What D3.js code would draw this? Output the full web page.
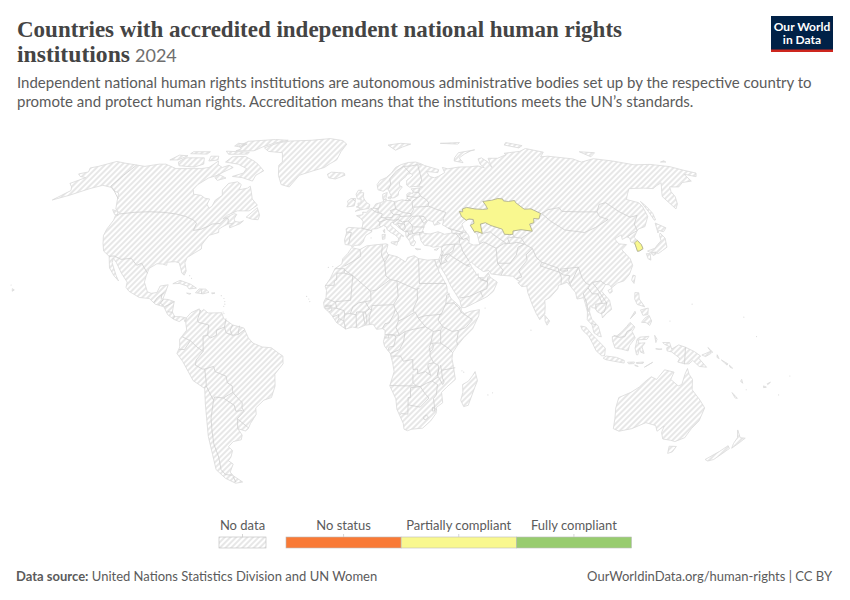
<!DOCTYPE html>
<html>
<head>
<meta charset="utf-8">
<script src="https://cdn.jsdelivr.net/npm/d3@7"></script>
<style>
  html, body { margin: 0; padding: 0; background: #fff; }
  text { font-family: Lato, sans-serif; }
</style>
</head>
<body>
<svg id="chart" width="850" height="600"></svg>
<script>
"use strict";
// all geography below is [lon, lat], traced by hand at low resolution
var northAmerica = [[-168,65.6],[-164,66.5],[-166.5,68.3],[-163,69],[-156.5,71.3],[-150,70.5],[-141,69.6],[-135,69],[-128,70],[-124,70],[-115,68],[-108,68],[-100,68],[-96,68.5],[-94,71.5],[-92,69.8],[-88,68.5],[-85,69.5],[-81.5,68.5],[-85,66.5],[-87,65],[-91,63.8],[-94,61],[-94.5,59],[-92.5,57],[-88,56.5],[-85,55.3],[-82.3,55],[-82,52.8],[-80,51.3],[-79,52],[-79,54.5],[-76.8,56.5],[-78.5,58.7],[-77.5,61.5],[-73,62.2],[-70,61],[-69.5,58.8],[-65.5,59.5],[-64.5,60.3],[-62,57.5],[-60,55],[-56,52.5],[-59,50.2],[-65,50.2],[-69,48.5],[-70.5,47],[-66,49.1],[-64.5,48.8],[-65,47],[-64,46],[-61.5,45.7],[-60,46.3],[-61,45.2],[-65.5,43.5],[-66,44.3],[-64.5,45.3],[-67,45],[-69,44],[-70.5,43],[-70,41.7],[-74,40.6],[-75.5,38],[-76,36.9],[-75.6,35.3],[-78,33.9],[-81,32],[-81.4,30],[-80,26.8],[-80.5,25.2],[-81.8,26],[-82.8,28],[-84,30],[-86,30.4],[-89.5,30.2],[-89.4,29],[-91.5,29.5],[-94,29.6],[-97,27.8],[-97.5,25],[-97.8,22.5],[-95.8,18.8],[-94,18.2],[-91.5,18.5],[-90.5,21],[-87,21.5],[-87.7,18.5],[-88.5,16],[-86,15.8],[-83.3,15],[-83.7,11],[-82.5,9.2],[-80,9.2],[-77.4,8.7],[-77.9,7.2],[-78.5,8.5],[-80.4,7.3],[-83,8.2],[-85.7,10],[-87.6,13],[-91.5,14],[-94.5,16.2],[-99,16.6],[-104,19],[-105.6,20.5],[-105.5,22.5],[-109,26],[-112.5,30],[-114.7,31.7],[-114.5,30],[-111,25],[-109.5,23],[-112,25],[-115,28],[-117,32.5],[-120.5,34.5],[-122.5,37.5],[-124.2,40.5],[-124.5,43],[-124,46.5],[-124.7,48.4],[-123,49],[-127,51],[-130,54.5],[-133,57.5],[-137,58.5],[-140,59.8],[-146,60.7],[-151,59.3],[-158,56.5],[-164,54.6],[-160,58.5],[-162,60],[-165.5,61.5],[-161,64],[-165,64.5]];
var southAmerica = [[-77.4,8.7],[-75.5,10.7],[-72,12.2],[-71.5,10.8],[-70,12],[-68,10.6],[-62,10.7],[-61,8.5],[-57,6],[-52,4.8],[-50,1],[-48,-1],[-44,-2.5],[-40,-2.8],[-37,-4.8],[-35,-6],[-35,-9],[-38.8,-13],[-39,-17.5],[-41,-22],[-44.5,-23],[-48.5,-26],[-48.7,-28.5],[-52,-32],[-53.5,-34],[-55,-34.9],[-58.3,-34],[-57,-36.5],[-58,-38.3],[-62,-39],[-65,-41],[-63.7,-42.5],[-65.5,-45],[-67.5,-46.5],[-65.8,-47.8],[-69,-51],[-68.3,-52.5],[-65,-55],[-69,-55.5],[-73,-53.5],[-75.5,-50],[-74,-44],[-73,-37],[-71.5,-30],[-70.3,-18.5],[-75,-15.5],[-79,-8],[-81.3,-5],[-80,-2.5],[-80,0.5],[-78.7,2],[-77,4],[-77.6,7.2]];
var eurasia = [[-9,37],[-9.5,38.8],[-8.8,41.5],[-9.2,43.1],[-8,43.7],[-3,43.4],[-1.5,43.4],[-1.2,46],[-2.5,47.3],[-4.7,48.3],[-1.5,48.7],[-1.7,49.7],[0.2,49.6],[1.6,50.9],[3.5,51.4],[4.7,53],[7,53.5],[8.8,54],[8.2,55.5],[8.2,57],[10.6,57.7],[10.3,56.5],[9.8,55],[10.9,54.3],[12.5,54.4],[14.2,53.9],[18.5,54.7],[20,54.4],[21,55.3],[21,57],[22.5,57.7],[24.2,57.2],[24.4,58.3],[23.5,59.2],[28,59.5],[30,60],[25,60.2],[22.8,59.9],[21.3,60.8],[21.5,62.8],[25.3,65],[24.2,65.8],[22.2,65.5],[21.3,64.5],[17.5,62.2],[17.2,60.7],[18.8,60],[16.7,58],[16.4,56.5],[14.3,55.5],[12.9,55.4],[12.5,56.5],[11.2,58.9],[10.5,59.3],[8.5,58.2],[5.6,58.8],[5,61],[6.5,62.8],[10,64],[13,66],[15.5,68.5],[19,69.8],[23.5,70.8],[28,71],[31,70.2],[33,69.4],[41,67.5],[40,66.2],[33.5,66.7],[34.8,64.5],[37.5,63.9],[40,64.6],[44,66.2],[43.5,68.5],[46.5,67.9],[53.5,68.7],[60,68.8],[65,69.2],[68.5,68.4],[67,70],[67.5,72.5],[70,73],[72.5,71],[73,68.5],[74,72.8],[80,72.8],[87,74.5],[86.5,75.2],[98,76.2],[104,77.7],[113,75.8],[108,73.5],[113,73.8],[127,72.5],[130,71],[140,72.6],[150,71.5],[160,69.7],[170,69.9],[180,68.9],[-175,67.3],[-170,66],[-173,64.4],[-178,65.5],[-179,62.5],[175,61.9],[170,60],[165,60],[163,58],[162.5,56],[160,53],[157,51],[155.7,56],[158,58],[163,61.8],[155,59.3],[150,59.5],[142,59.3],[135.5,54.8],[140.5,53.5],[141,52],[140,48],[135.5,44],[131.5,43],[130.5,42.3],[127.5,39.8],[129.4,37],[129.2,35.2],[126.5,34.4],[126.5,37.5],[125,38],[125.3,39.5],[124.3,40],[121.5,39],[122,40.8],[118,39.2],[119,37.3],[122.5,37],[119.3,35],[121.8,31.5],[122,29],[119.5,25.5],[116.5,23],[113.5,22.2],[110.5,20.3],[109.7,21.5],[108,21.6],[105.8,19],[108.8,15.5],[109.3,12],[107,10.5],[105,8.7],[104.8,10.2],[103,11],[102,12.5],[100.8,12.7],[100,13.4],[99.5,11],[100.3,8.2],[103,5.5],[104.2,1.4],[103,1.7],[101,3],[100.3,6],[98.3,8],[98.6,11],[98,14],[97.5,16.5],[94.5,16],[94.2,18.5],[92.3,20.8],[91,22.5],[89,21.8],[87,21.3],[86.5,20],[82.5,16.5],[80.2,15.5],[80.2,13],[79.8,10.3],[77.5,8],[76,10.5],[74.5,14],[73,18.5],[72.8,21],[70.5,20.8],[69,22.3],[70,22.8],[68.5,23.5],[67,24.8],[61.5,25.2],[57.3,25.7],[56.5,27],[54,26.6],[51,28.5],[49,30.2],[48,30],[48.8,28.5],[50.2,26.5],[51,25],[51.5,25.8],[51.6,24.3],[54,24.2],[56.2,26.2],[56.7,24.5],[59.8,22.5],[57.8,19],[55,17],[52,15.7],[45,12.7],[43.4,12.7],[42.7,15.5],[39,21],[37,25],[35,28],[34.9,29.5],[34,27.8],[33,28.7],[32.6,30],[32.3,31.2],[34.2,31.3],[35.5,33.5],[36,36],[34,36.2],[32,36],[30.5,36.5],[28,36.7],[26.5,38.5],[26.2,40],[26,40.8],[24,40.8],[23,40.3],[22.7,40.5],[23,39],[24,38],[23,36.5],[21.7,36.8],[21.2,38.3],[19.5,40.3],[19.5,41.8],[16.5,43.4],[15,44.6],[13.7,45.1],[13.7,45.7],[12.3,45.4],[12.4,44.3],[13.5,43.6],[16,41.8],[18.5,40.2],[17,40.4],[16.6,39],[15.7,38],[16,39.5],[14.3,40.8],[12.3,41.7],[10.5,42.9],[10.1,44],[8.8,44.4],[7.5,43.8],[5.5,43.2],[3.2,43],[3.2,41.9],[0.5,40.6],[-0.3,39.2],[-0.5,38.2],[-2,36.8],[-4.5,36.7],[-5.6,36],[-6.5,36.8]];
var africa = [[-5.9,35.8],[-2,35.1],[1,36.5],[5,36.9],[10,37.3],[11,37],[10.2,34.5],[11,33.2],[15.3,32.3],[19,30.3],[20,32],[23,32.7],[25,31.6],[29,31],[32.3,31.2],[32.6,30],[33.5,28],[34,26.5],[35.5,24],[37.2,21],[37.3,18.8],[39,16],[41,14.5],[43.2,12.5],[43.2,11.5],[44.5,10.4],[47,11.2],[51.2,11.9],[50.8,9.5],[48,4.5],[44,1],[41.5,-1.7],[39.3,-4.7],[39,-7],[39.7,-10],[40.7,-15],[37,-18],[34.8,-20],[35.5,-24],[32.8,-25.8],[32.8,-28],[30.5,-31],[27,-33.8],[22,-34.2],[20,-34.8],[18.4,-34.2],[18,-32],[15,-26.5],[14.5,-22.5],[11.8,-17.5],[13.7,-12],[13,-8.5],[12,-5],[9.5,-2.2],[9,-0.5],[9.7,2],[9.7,4],[8.5,4.6],[6,4.3],[4.5,6.3],[1,5.9],[-2,4.8],[-4.5,5.2],[-7.5,4.4],[-11.5,6.9],[-13.5,9.5],[-15,11],[-17,12.5],[-17.4,14.7],[-16.4,16.5],[-16.3,19.3],[-17,21],[-14.8,24],[-13,27.7],[-10,29.5],[-9.7,31.5],[-7.5,33.6]];
var greenland = [[-73,78],[-66,81],[-60,82],[-45,82.5],[-32,83.6],[-22,82.3],[-18,80],[-20,76],[-21,72],[-27,68.5],[-33,67],[-40,65],[-43,60],[-48,61],[-52,65],[-55,69.5],[-54,71],[-58,75.5],[-68,76.2]];
var australia = [[114,-22],[113.5,-26],[115,-34],[118,-35],[123.5,-34],[129,-31.7],[134,-32.8],[135.6,-35],[138,-33],[138,-35.5],[140,-38],[144,-38.5],[146.3,-39],[150,-37.5],[151,-34],[153,-31],[153.5,-26],[150.5,-23],[146,-19],[145.3,-15],[143.5,-13],[142.5,-10.8],[141.7,-13],[141,-17],[139.5,-17.5],[135.7,-15],[136.8,-12.2],[132.5,-11.3],[129.5,-15],[127,-14],[125,-15.5],[122.3,-18],[119,-20]];
var arcticIslands = [
  [[-80,73.7],[-72,71.5],[-68,70],[-62,67],[-65,65],[-65,62.5],[-72,64],[-78,64.5],[-73,66],[-73,68],[-80,70],[-89,71],[-88,73.5]],
  [[-105,73],[-117,73],[-118,71],[-115,69.3],[-105,68.7],[-101,70]],
  [[-125,72],[-123,74.3],[-117,74],[-120,72]],
  [[-90,76.5],[-78,76.5],[-75,78.5],[-62,82.5],[-72,83],[-90,81.8],[-92,79],[-88,77.5]],
  [[-96,76.3],[-80,75.8],[-80,74.8],[-92,74.7]],
  [[-117,76],[-106,76],[-106,74.8],[-117,75]],
  [[-102,73.8],[-97,73.8],[-95,72],[-100,71.5]],
  [[-95,80.5],[-88,80],[-90,78.5],[-95,79]],
  [[-87,65.5],[-81,63.8],[-85,62.8],[-87.5,64]],
  [[11,79.5],[16,76.8],[21,78.5],[27,80],[20,80.5]],
  [[52,71.5],[57,70.7],[56,73],[66,76.5],[69,77],[57,75.5],[53,73]],
  [[48,80.5],[62,81],[60,80]],
  [[95,81],[104,79.2],[100,78],[92,79.5]],
  [[137,76],[146,75.5],[140,73.5]],
  [[178.7,71],[-178,71],[-178,71.6]]
];
var otherIslands = [
  [[-59.3,47.7],[-55.5,51.5],[-53,48.5],[-53,46.7],[-56,46.9]],
  [[-128.3,50.7],[-125,50],[-123.4,48.4],[-125.5,48.8]],
  [[-85,21.9],[-82,23.2],[-77,21.7],[-74.2,20.2],[-77.5,19.9],[-78.5,21],[-82,22]],
  [[-74.4,18.4],[-73,19.9],[-70,19.8],[-68.4,18.6],[-71,18]],
  [[-78.3,18.3],[-76.3,18.1],[-77,17.8]],
  [[-67.2,18.4],[-65.7,18.3],[-67,18]],
  [[-156,20],[-155,19.5],[-155.8,19]],
  [[-5.5,50],[-3,50.6],[1.3,51.2],[1.7,52.7],[0,53.5],[-1.5,55],[-2,56],[-2,57.6],[-4,57.6],[-3,58.6],[-5,58.6],[-6,57],[-5,55],[-3,54.9],[-3,53.4],[-4.5,53.3],[-4.2,52],[-5.2,51.8],[-3,51.4]],
  [[-10,51.8],[-6.3,52.2],[-6,53.8],[-6,55.2],[-8.3,55.2],[-10,54.2],[-9.5,53]],
  [[-24,65.5],[-22,66.4],[-18,66.2],[-14.5,66],[-13.7,65],[-18.8,63.4],[-22.7,63.9]],
  [[11,55.7],[12.6,56],[12.3,55],[11.2,55.2]],
  [[12.5,38],[15.6,38.2],[15.1,36.7],[12.5,37.6]],
  [[8.2,40.9],[9.7,41],[9.5,39.2],[8.4,39]],
  [[8.6,42.4],[9.4,43],[9.4,41.5]],
  [[23.6,35.5],[26.2,35.2],[24.5,35]],
  [[32.4,35],[34.5,35.6],[33.6,34.8]],
  [[142,54],[143,52],[143.5,49.3],[142.8,46.7],[142,46.5],[142,50]],
  [[140,41.5],[141.5,45.4],[145.3,43.5],[143,42],[141,42.5]],
  [[141,41.5],[142,39.5],[140.8,36],[138,34.7],[135.7,33.6],[132,34],[131,34.5],[135,35.6],[137,37],[139.5,38.5],[140,40.5]],
  [[130,33.5],[131.8,33.5],[131,31],[130,31.5]],
  [[132.3,33.5],[134.5,34.2],[134.2,33.3],[133,32.8]],
  [[121,25.2],[122,25],[120.8,22],[120,23.3]],
  [[108.7,19.3],[110.5,20.1],[110.5,18.8],[109.3,18.2]],
  [[120.5,18.5],[122.2,18.4],[122,16],[124,13],[120.8,13.9],[120,16]],
  [[122,7],[123.5,8.6],[125.5,9.7],[126.5,7.5],[125.5,5.8],[124,6.9]],
  [[122,11.8],[125.5,12.5],[125,10],[122.8,9.7]],
  [[117.2,8.4],[119.5,11.3],[119.7,10.5]],
  [[79.8,9.7],[81.8,7.5],[80.6,5.9],[79.8,7.5]],
  [[95.3,5.6],[97.5,5.2],[100.5,2],[103.8,-1],[106,-3],[105.8,-5.9],[104.5,-5.9],[102,-4],[100.3,-1],[98.7,1.7],[96,4]],
  [[105.2,-6.8],[106.5,-6],[111,-6.5],[114.5,-7.7],[114.5,-8.7],[110,-8],[106.4,-7.4]],
  [[109,1.5],[111,1.8],[113,3.2],[115.5,5.5],[117,7],[119,5.2],[117.7,3.5],[119,1],[116.5,-2],[116,-4],[113,-3.3],[110.2,-2.9],[109,0]],
  [[119.7,-5.5],[119,-3],[119.8,0.5],[121,1.3],[125,1.6],[124,0.4],[120.5,0.3],[120.2,-1],[121.7,-1],[123.3,-0.9],[122,-2.5],[123,-5],[121.5,-4.5],[120.9,-3],[120.3,-5.5]],
  [[127.5,2],[128.5,0.5],[128,-0.8]],
  [[128,-3.2],[130.8,-3.3],[129.5,-3.5]],
  [[123.5,-10.3],[127,-8.4],[125,-9.5]],
  [[119.8,-8.5],[123,-8.3],[122.8,-8.8],[120,-8.9]],
  [[116,-8.4],[119,-8.3],[118.8,-8.9],[116.5,-9]],
  [[119.2,-9.4],[120.8,-10],[119.5,-9.8]],
  [[131,-0.8],[134,-0.8],[135,-3.3],[138,-1.7],[141,-2.6],[145,-4.3],[147.8,-6],[147,-6.8],[150.8,-10.3],[147.5,-10],[144.5,-7.7],[143,-9],[141,-9],[138,-8.3],[138.7,-6.8],[135,-4.4],[133,-4],[132.8,-2.8],[134,-2.3],[131.8,-1.5]],
  [[148.3,-5.6],[152,-4.2],[152.2,-5],[150,-6.2]],
  [[150.8,-2.7],[153,-4.5],[152.6,-4.7]],
  [[155,-5.5],[156,-7],[155,-6.5]],
  [[157,-7.5],[160,-9],[159.7,-9.5]],
  [[160.7,-9.5],[162.3,-10.7],[161.2,-10.4]],
  [[167,-15],[167.8,-16.5],[166.7,-15.7]],
  [[164,-20.1],[167,-22.3],[166,-22.2]],
  [[177.3,-17.5],[178.7,-18],[177.5,-18.2]],
  [[178.7,-16.7],[180,-16.1],[179,-17]],
  [[144.8,-40.8],[148.3,-40.9],[148,-43],[146.2,-43.6]],
  [[172.7,-34.5],[176,-37.5],[178.5,-37.7],[177,-39.5],[175.3,-41.6],[174.5,-39.7],[174.7,-37.5]],
  [[172.7,-40.6],[174.3,-41.7],[172.8,-43.5],[170.7,-46],[168.4,-46.6],[166.5,-46],[170.5,-42.9]],
  [[49.3,-12],[50.5,-15.5],[49.5,-18],[47,-25],[45,-25.5],[43.5,-23],[44.3,-20],[44,-17],[46.5,-15.7],[48.3,-13.5]]
];
var inlandSeas = [
  [[28,41.4],[31,41.1],[35,42],[38,41],[41.5,41.5],[41.5,42.7],[37.5,44.7],[38.5,46.8],[35,46],[36.5,45.2],[33.5,44.5],[33,46],[30.7,46.5],[28.7,44.5],[27.7,42.5]],
  [[47,45],[50,46.8],[53,46.8],[51,44.5],[52.8,41.7],[53.5,40.8],[53.9,37],[51,36.8],[49,37.5],[49.5,40.3],[47.5,43]]
];
var tinyIslands = [[-61,15],[-61.3,13.2],[-61.5,16.2],[-60.9,14],[-61.4,11],[-62.8,17.3],[-61,10.4],[-24,16],[-23.5,15],[-25,17],[57.5,-20.2],[55.5,-21],[43.5,-11.7],[44.3,-12.2],[53.7,12.5],[-172,-13.7],[-175,-21],[172,1.5],[167,9],[170,-19],[134.5,7.5],[145,14],[-157,21.4],[-78,25],[-77,24],[-16,28.2],[-14,28.5],[3,39.6],[73.5,4]];

var americasBorders = [
  [[-141,69.6],[-141,60.3],[-137.5,58.9],[-133.5,56.8],[-130,55]],
  [[-123,49],[-95,49],[-89.5,48],[-84.5,46.5],[-82.5,45.3],[-82.5,42.5],[-79,43],[-76,44.2],[-74.7,45],[-71,45.2],[-69.2,47.4],[-67.8,47],[-67,45]],
  [[-117,32.5],[-114.7,32.6],[-111,31.3],[-106.5,31.7],[-103,29],[-101,29.8],[-97.2,25.9]],
  [[-92.2,14.6],[-91,16.5],[-89.2,17.8],[-88.2,18.5]],[[-89.2,15.9],[-89.2,17.9]],
  [[-88.3,15.7],[-89.3,14.4],[-90,13.7]],[[-89.3,14.4],[-87.8,13.4]],
  [[-87.5,13],[-85,14],[-83.2,15]],[[-85.7,11.1],[-83.7,10.9]],[[-83,8.3],[-82.6,9.5]],
  [[-71.7,19.7],[-71.7,18]],
  [[-71.3,11.8],[-72.5,8],[-72,7],[-67.5,6],[-67.8,2]],[[-67.8,2],[-69.8,1.7],[-69.8,-4.2]],
  [[-69.8,-4.2],[-72.5,-2.5],[-75.3,-0.1],[-78.8,1.4]],[[-75.3,-0.1],[-78,-3.5],[-80.3,-3.4]],
  [[-69.8,-4.2],[-73,-7.5],[-73.5,-9.5],[-70.5,-11],[-69.5,-11]],[[-69.5,-11],[-69.3,-15.5],[-69.5,-17.5]],[[-69.5,-17.5],[-70.4,-18.3]],
  [[-69.5,-11],[-65.5,-10],[-65,-12],[-60.3,-13.8],[-60,-16.3],[-58,-17.5],[-58,-20]],[[-58,-20],[-62.5,-22.2]],
  [[-62.5,-22.2],[-66.3,-21.8],[-67,-23]],[[-69.5,-17.5],[-68,-21],[-67,-23]],
  [[-67,-23],[-69.5,-30],[-70.5,-35],[-71.5,-40],[-71.5,-45],[-73,-50],[-72,-52],[-68.5,-52.3]],[[-68.6,-52.7],[-68.6,-55]],
  [[-62.5,-22.2],[-58,-25],[-57.7,-27.3],[-54.7,-27]],[[-58,-20],[-56,-22.3],[-54.3,-24],[-54.7,-26]],
  [[-54.7,-26],[-54,-27.3],[-57.6,-30.2]],[[-57.6,-30.2],[-58.3,-34]],[[-57.6,-30.2],[-53.3,-33.7]],
  [[-60,8.5],[-60.5,5.2]],[[-60.5,5.2],[-64,4],[-64,2],[-66.5,1],[-67.8,2]],[[-60.5,5.2],[-59.8,3],[-57,2]],
  [[-57,6],[-58,4],[-57,2]],[[-54,5.7],[-54.5,2.3]],[[-57,2],[-54.5,2.3]],[[-54.5,2.3],[-51.8,4.1]]
];
var africaBorders = [
  [[-2,35.1],[-1.5,32.5],[-5,30.5],[-8.7,28.7]],[[-13,27.7],[-8.7,27.7],[-8.7,26],[-12,26],[-12,23.4],[-13,23],[-13,21.3],[-17,21.3]],
  [[-8.7,27.3],[-4.8,25],[3.3,19],[4.2,19.2],[5.8,19.5],[12,23.5]],[[-8.7,26],[-4.8,25],[-5.5,15.5],[-12,15],[-12.2,14.8],[-16.4,16.2]],
  [[8.4,36.9],[8,33],[9.5,30.2]],[[11.5,33.2],[9.5,30.2]],[[9.5,30.2],[10,25],[12,23.5]],[[12,23.5],[15,23]],[[15,23],[24,19.5]],[[25,31.6],[25,22]],[[24,19.5],[24,20],[25,20]],[[24.9,22],[37,22]],
  [[24,19.5],[24,15.7],[22.5,13],[22,11]],[[22.8,11],[18.8,8.8],[15.5,7.5]],[[15,23],[15.5,16.9],[13.5,14]],[[13.5,14],[14.2,12],[15.5,10],[15.5,7.5]],
  [[3.3,19],[3.5,15.4],[1,15]],[[1,15],[2.8,12.2]],[[3.7,11.7],[4,13.5],[13.5,13.8]],[[2.8,12.2],[3.7,11.7],[2.7,9],[2.8,6.3]],[[1,11],[1.7,9],[1.7,6.2]],[[1,11],[2.8,12.2]],
  [[-5.5,10.4],[-3,9.9],[-2.8,11],[1,11]],[[-5.5,10.4],[-4.5,13],[-2,14.5],[1,15]],[[-12.2,14.8],[-11.5,12.4],[-8.3,11.5],[-8,10.2],[-5.5,10.4]],
  [[-11.5,12.4],[-13.7,12.6],[-16.7,12.4]],[[-13.7,12.6],[-13.7,11.7],[-15,11]],[[-16.8,13.2],[-14,13.2],[-14,13.6],[-16.6,13.6]],
  [[-13.2,9.1],[-10.7,10],[-10.6,8.5]],[[-11.4,6.9],[-10.6,8.3]],[[-10.6,8.5],[-8.4,7.6],[-8,10.2]],[[-8.4,7.6],[-7.5,4.4]],[[-3,9.9],[-2.8,5.1]],[[0,11],[0.5,8],[1.1,6]],
  [[8.6,4.7],[9.7,6.5],[11.5,6.8],[13.5,10],[14.2,12]],[[9.8,2.3],[16,2]],[[15.5,7.5],[14.5,5],[16,2]],[[9.6,1],[11.3,1],[11.3,2.2]],
  [[11.3,2.2],[13.3,2.2],[14.5,1.4],[13.5,-2.3],[11.5,-2.5],[11,-3.8]],[[12,-5],[16,-3.5],[17.8,-0.5],[18.5,3.5]],[[16,2],[18.5,3.5]],[[18.5,3.5],[22,4.3],[27.4,5.3]],
  [[27.4,5.3],[24.2,8.7],[23.5,10],[22.8,11]],[[24.2,8.7],[27,9.5],[33,10],[34.3,10]],[[34,10.5],[33,7.8],[35,5.3]],[[27.4,5.3],[30.8,3.5],[34,4],[35,5.3]],
  [[34.3,10],[36.5,14.3],[37,17.5],[38.5,18]],[[36.5,14.3],[40,14.5],[42.4,12.5]],[[42.4,12.5],[43,11],[48,8],[45,5],[42,4]],
  [[35,5.3],[39,3.5],[41.8,3.9]],[[41.8,3.9],[41,-0.5],[41.5,-1.7]],[[34,4],[34,0],[34,-1]],[[34,-1],[37.7,-3.2],[39.2,-4.7]],[[30.8,3.5],[29.8,-0.5],[29.6,-1.4]],[[30.5,-1],[34,-1]],
  [[29.6,-1.4],[30.5,-1],[30.8,-2.4],[30.5,-3.5],[29.4,-4.4],[29,-2.7],[29.6,-1.4]],[[29.4,-4.4],[29.4,-6],[31,-8.6]],
  [[12.3,-6],[16.5,-6],[17.7,-8],[21.8,-7.3],[22,-11.2],[24,-11]],[[24,-11],[24,-12.9],[27.5,-12],[29.8,-13.5],[28.5,-10],[28.6,-9],[31,-8.6]],
  [[31,-8.6],[33,-9.5],[33.3,-11],[32.7,-13.6]],[[34.5,-11.5],[40.5,-10.5]],[[34,-9.5],[34.5,-11.5],[35,-14.5],[35.8,-16],[35.2,-17],[33.2,-14],[32.7,-13.6],[33.3,-11]],
  [[30.4,-15.6],[33.2,-14]],[[30.4,-15.6],[32.9,-17],[32.5,-21],[31.3,-22.4]],[[25.3,-17.8],[28,-16.5],[30.4,-15.6]],[[25.3,-17.8],[27.5,-20.5],[29.3,-22.2]],
  [[22,-13],[22,-16.2],[23.5,-17.5]],[[11.8,-17.3],[14,-17.4],[18.5,-17.5],[23.5,-17.5],[25.3,-17.8],[21,-18.2],[21,-22],[20,-22],[20,-28.4],[17,-28.2],[16.5,-28.6]],
  [[20,-24.8],[23,-25.3],[25.5,-25.7],[29.3,-22.2]],[[31.3,-22.4],[32,-26],[32.9,-26.9]],
  [[27,-29.6],[28.3,-28.7],[29.4,-29.5],[28.2,-30.6],[27.3,-30.3],[27,-29.6]],[[31,-25.8],[32,-26],[32,-27.2],[31,-27.2],[31,-25.8]]
];
var europeBorders = [
  [[-8.8,41.9],[-6.5,41.7],[-7,39.6],[-7.4,37.2]],[[-1.8,43.4],[3.2,42.4]],[[2.5,51],[4.2,50],[5.8,49.5],[6.2,49.5],[8.2,49],[7.5,47.6],[6,46.3],[7,45.8],[6.9,44.3],[7.5,43.8]],
  [[3.4,51.4],[6,51]],[[5.8,49.5],[6,50.1]],[[7,53.3],[6.8,52],[6,51],[6,50.2],[6.2,49.5]],[[8.6,54.9],[9.8,54.8]],[[14.2,53.9],[14.7,52],[15,50.9]],
  [[12.1,50.3],[15,51],[16.5,50.3],[18.8,49.5]],[[12.1,50.3],[13.8,48.7],[16.9,48.7]],[[7.5,47.6],[10,47.4],[13,47.6],[13.8,48.7]],[[7,45.8],[10.4,46.8],[9.6,47.4]],[[10.4,46.8],[13.7,46.5]],
  [[16.9,48],[16,46.8],[13.7,46.5]],[[16.9,48.7],[17,48],[22.5,48.2],[22.5,49.1],[18.8,49.5]],[[16,46.8],[18,45.8],[21,46.2],[22.9,47.9]],[[13.6,45.5],[16,46.8]],
  [[22.5,49.1],[24,50.8],[23.5,51.5]],[[23.5,51.5],[23.5,54]],[[19.8,54.4],[22.8,54.4],[21,55.3]],[[23.5,54],[26.6,55.6]],[[21,56.1],[26.6,55.6]],[[24.4,57.9],[27.5,57.6]],[[28,59.5],[27.5,57.6]],
  [[27.5,57.6],[28.2,56.2],[26.6,55.6]],[[28.2,56.2],[31,54.7],[32,53.5],[31.5,52.2]],[[24,51.7],[31.5,52]],[[31.5,52.2],[35,51],[40,49.6],[38.2,47.1]],
  [[22.9,48],[26.6,48.2],[29,47.9],[30,46.4],[28.7,45.3]],[[26.6,48.2],[28.2,45.5],[28.7,45.3]],[[21,46.2],[22.7,44.5],[22.9,43.9],[28.6,43.8]],[[22.9,43.9],[22.4,42.3],[22.9,41.3]],[[22.9,41.3],[26.3,41.7],[28,42]],
  [[26.3,41.7],[26,40.8]],[[20,39.7],[21,40.8],[22.9,41.3]],[[19.4,42.2],[20.5,42],[21,40.8]],[[15.8,45.2],[19,45],[19.4,43.5],[18.5,42.5],[17.5,43],[15.8,44.8],[15.8,45.2]],[[19.4,42.2],[22.4,42.3]],[[18.9,46],[19,45.2]],
  [[24.1,65.8],[20.5,69]],[[20.5,69],[25,69.2],[29,69.8]],[[20.5,69],[16,67],[12,63.5],[12.5,61],[11.2,59]],[[28,60.5],[30,63],[29.5,66],[29,69.5]],[[29,69.5],[31,70]],[[-7.3,55],[-6,54]]
];
var asiaBorders = [
  [[40,43.4],[46.5,41.8]],[[41.5,41.5],[43.5,41.2],[46.5,41.2],[46.5,41.8]],[[46.5,41.8],[48.5,41.8]],[[45,41.2],[45.5,40],[46.5,39]],[[43.5,41.2],[44.7,39.7]],[[44.7,39.7],[46.5,39],[48,39.5],[48.9,38.4]],[[44.7,39.7],[44.5,37.7]],
  [[36,36],[37,36.8],[42.3,37.2],[44.8,37.2]],[[44.8,37.2],[45.5,34.5],[48,30.5]],[[42.3,37.2],[41,34.5],[38.8,33.4]],[[36,34.6],[36.5,33.8],[35.8,32.7],[38.8,33.4]],[[38.8,33.4],[37,31.5],[38,30.5],[35,29.4]],
  [[35.1,33.1],[35.6,33],[35.5,31],[34.9,29.5]],[[34.3,31.2],[34.9,29.5]],[[38.8,33.4],[41,32],[46.5,29],[48,29.5]],[[46.5,29.1],[48,28.5]],[[42.8,16.4],[47,17],[52,19],[53,16.7]],[[52,19],[55,20],[55.5,22.7],[52,23.5]],[[51.6,24.3],[55.2,22.7],[56,24.8]],
  [[53.9,37.3],[56,38],[61.2,35.6]],[[61.2,35.6],[60.8,29.8]],[[60.8,29.8],[63,27],[61.7,25.1]],[[60.8,29.8],[66.5,29.8],[70,33],[71.5,36],[74.8,37.2]],[[61.2,35.6],[65,37.3],[66.5,37.4]],[[66.5,37.4],[70,37.6],[71.5,37.9],[74.8,37.2]],
  [[56,41.3],[60,42],[61,41],[66.5,37.4]],[[70.5,41],[71,40],[67.5,39.5],[68,37.4]],[[70,40],[74,39.5]],[[80.2,42.2],[74,39.5]],[[74,39.5],[75,37.4]],[[74.8,37.2],[78,35.5]],[[78,35.5],[74.5,33],[74.5,31],[70,27],[71,24.5],[68.5,23.8]],[[78,35.5],[79,32],[81,30.2]],
  [[81,30.2],[88,27.9],[88,26.4],[80,28.8],[81,30.2]],[[88.8,27.5],[92,27.8],[92,26.8],[89,26.8],[88.8,27.5]],[[92,27.8],[97.2,28.3]],[[97.2,28.3],[94,24],[92.5,22]],[[88.2,26.4],[89.8,25.3],[92.5,25],[91.8,23],[92.5,21]],[[88.2,21.7],[88.7,24.3],[88.2,26.4]],
  [[97.2,28.3],[98,24],[99.5,22],[101,21.5]],[[101,21.5],[100,20.3],[97.5,18],[98.5,15],[99,11]],[[101,21.5],[102.2,22.4]],[[102.2,22.4],[104,20],[107,15],[107.5,14.5]],[[100,20.3],[101.5,18],[104,18],[105.5,14.3]],[[102.5,12],[102.5,14],[105.5,14.3],[107.5,14.5],[106,11],[104.5,10.4]],[[102.2,22.4],[106,23],[108,21.6]],[[100.1,6.5],[102,6.1]],
  [[87.8,49.2],[91,46],[96,42.7],[105,41.7],[111.5,43.7],[119.5,46.8],[116,47.9],[116,49.8]],[[87.8,49.2],[92,50.7],[98,51.5],[98.5,50],[107,49.8],[116,49.8]],[[87.3,49.2],[87.8,49.2]],[[116,49.8],[119.5,52.8],[123.5,53.5],[127,50],[131,47.7],[135,48.4],[131,45],[130.7,42.4]],[[130.6,42.4],[128,41.5],[124.4,40]],
  [[109.6,2],[112,1.2],[114.5,1.5],[115.5,3.5],[117.6,4.2]],[[141,-2.6],[141,-9.1]]
];
// only two countries carry a value on this map
var kazakhstan = [[49.5,46.5],[47.5,48],[46.9,50],[48.5,49.8],[48.8,51],[51,51.6],[55,51],[59,50.8],[61.5,51],[61,52.7],[60.2,54],[65,54.5],[68.5,55.2],[71,55],[71,54.2],[73.5,54],[76.8,54.4],[77,53.5],[80,50.9],[83.5,51],[87.3,49.2],[85.5,47],[83,47.2],[82.3,45.5],[80,45],[80.2,42.2],[75,42.8],[71,42.3],[70.5,41],[68.8,40.9],[66.5,41],[66,43],[61,44.4],[58.6,45.5],[56,45],[56,41.3],[54,42],[52.7,42],[52.5,41.7],[51,44.5],[53,45.3],[53,46.8],[51,47]];
var southKorea = [[126.6,37.7],[128.4,38.6],[129.4,37],[129.4,35.5],[127.5,34.6],[126.3,34.4],[126.5,36.5]];

var legendCategories = ["No status", "Partially compliant", "Fully compliant"];
var legendColors = ["#f97a36", "#f9f88f", "#98cc6f"];
var noDataLabel = "No data";
var titleLines = ["Countries with accredited independent national human rights", "institutions"];
var titleYear = "2024";
var subtitleLines = ["Independent national human rights institutions are autonomous administrative bodies set up by the respective country to",
  "promote and protect human rights. Accreditation means that the institutions meets the UN\u2019s standards."];

// robinson table, every 5 degrees of latitude
var robinsonX = [1,.9986,.9954,.99,.9822,.973,.96,.9427,.9216,.8962,.8679,.835,.7986,.7597,.7186,.6732,.6213,.5722,.5322];
var robinsonY = [0,.062,.124,.186,.248,.31,.372,.434,.4958,.5571,.6176,.6769,.7346,.7903,.8435,.8936,.9394,.9761,1];
var latIndex = d3.range(0, 95, 5);
var xAtLat = d3.scaleLinear().domain(latIndex).range(robinsonX).clamp(true);
var yAtLat = d3.scaleLinear().domain(latIndex).range(robinsonY).clamp(true);

function robinsonRaw(lambda, phi) {
  var deg = Math.abs(phi) * 180 / Math.PI;
  return [0.8487 * xAtLat(deg) * lambda, 1.3523 * yAtLat(deg) * (phi < 0 ? -1 : 1)];
}

var projection = d3.geoProjection(robinsonRaw).rotate([-11, 0]).scale(154.6).translate([388, 340.5]).precision(0.3);
var path = d3.geoPath(projection);

// d3 wants exterior rings clockwise, my tracing goes either way
function toPolygon(ring) {
  var closed = ring.concat([ring[0]]);
  var poly = { type: "Polygon", coordinates: [closed] };
  if (d3.geoArea(poly) > 2 * Math.PI) poly.coordinates = [closed.slice().reverse()];
  return poly;
}

var svg = d3.select("#chart");

var defs = svg.append("defs");
defs.append("pattern")
  .attr("id", "noDataPattern")
  .attr("patternUnits", "userSpaceOnUse")
  .attr("width", 4)
  .attr("height", 4)
  .attr("patternTransform", "rotate(-45 2 2)")
  .append("path")
  .attr("d", "M -1,2 l 6,0")
  .attr("stroke", "#d4d4d4")
  .attr("stroke-width", 1.1);

var landRings = [northAmerica, southAmerica, eurasia, africa, greenland, australia].concat(arcticIslands, otherIslands);
var map = svg.append("g").attr("id", "map");

map.selectAll(".land")
  .data(landRings.map(toPolygon))
  .join("path")
  .attr("class", "land")
  .attr("d", path)
  .attr("fill", "url(#noDataPattern)")
  .attr("stroke", "#d9d9d9")
  .attr("stroke-width", 0.8)
  .attr("stroke-linejoin", "round");

map.selectAll(".sea")
  .data(inlandSeas.map(toPolygon))
  .join("path")
  .attr("class", "sea")
  .attr("d", path)
  .attr("fill", "#fff")
  .attr("stroke", "#d9d9d9")
  .attr("stroke-width", 0.8);

map.append("path")
  .datum({ type: "MultiLineString", coordinates: americasBorders.concat(africaBorders, europeBorders, asiaBorders) })
  .attr("d", path)
  .attr("fill", "none")
  .attr("stroke", "#cfcfcf")
  .attr("stroke-width", 0.8)
  .attr("stroke-linejoin", "round");

map.selectAll(".dot")
  .data(tinyIslands)
  .join("circle")
  .attr("class", "dot")
  .attr("cx", function (d) { return projection(d)[0]; })
  .attr("cy", function (d) { return projection(d)[1]; })
  .attr("r", 0.6)
  .attr("fill", "#dcdcdc");

map.selectAll(".compliant")
  .data([kazakhstan, southKorea].map(toPolygon))
  .join("path")
  .attr("class", "compliant")
  .attr("d", path)
  .attr("fill", legendColors[1])
  .attr("stroke", "#a8a88a")
  .attr("stroke-width", 0.8)
  .attr("stroke-linejoin", "round");

// header
var title = svg.append("g")
  .attr("font-weight", 600);
title.selectAll("text")
  .data(titleLines)
  .join("text")
  .attr("x", 17)
  .attr("y", function (d, i) { return 37 + i * 25; })
  .attr("textLength", function (d, i) { return i === 0 ? 605 : 113; })
  .attr("lengthAdjust", "spacingAndGlyphs")
  .attr("fill", "#444")
  .style("font-family", "'Liberation Serif', serif")
  .style("font-size", "23.5px")
  .style("font-weight", 700)
  .text(function (d) { return d; });

svg.append("text")
  .attr("x", 135)
  .attr("y", 62)
  .attr("fill", "#6e6e6e")
  .attr("font-size", 18)
  .text(titleYear);

svg.selectAll(".subtitle")
  .data(subtitleLines)
  .join("text")
  .attr("class", "subtitle")
  .attr("x", 17)
  .attr("y", function (d, i) { return 88 + i * 19; })
  .attr("fill", "#5b5b5b")
  .attr("font-size", 15)
  .text(function (d) { return d; });

// logo
var logo = svg.append("g");
logo.append("rect").attr("x", 771).attr("y", 16).attr("width", 62).attr("height", 36).attr("fill", "#002147");
logo.append("rect").attr("x", 771).attr("y", 49.5).attr("width", 62).attr("height", 2.5).attr("fill", "#ce261e");
logo.selectAll("text")
  .data(["Our World", "in Data"])
  .join("text")
  .attr("x", 802)
  .attr("y", function (d, i) { return 31 + i * 12.5; })
  .attr("text-anchor", "middle")
  .attr("fill", "#fff")
  .attr("font-size", 12)
  .attr("font-weight", 700)
  .text(function (d) { return d; });

// legend
var legendX = d3.scaleBand().domain(legendCategories).range([286, 631.5]);
var legend = svg.append("g");

legend.selectAll(".bin")
  .data(legendCategories)
  .join("rect")
  .attr("class", "bin")
  .attr("x", function (d) { return legendX(d); })
  .attr("y", 537)
  .attr("width", legendX.bandwidth())
  .attr("height", 11)
  .attr("fill", function (d, i) { return legendColors[i]; })
  .attr("stroke", "#bbb")
  .attr("stroke-width", 0.6);

legend.selectAll(".binLabel")
  .data(legendCategories)
  .join("text")
  .attr("class", "binLabel")
  .attr("x", function (d) { return legendX(d) + legendX.bandwidth() / 2; })
  .attr("y", 530)
  .attr("text-anchor", "middle")
  .attr("fill", "#5b5b5b")
  .attr("font-size", 13)
  .text(function (d) { return d; });

legend.selectAll(".binTick")
  .data(legendCategories)
  .join("line")
  .attr("class", "binTick")
  .attr("x1", function (d) { return legendX(d) + legendX.bandwidth() / 2; })
  .attr("x2", function (d) { return legendX(d) + legendX.bandwidth() / 2; })
  .attr("y1", 534)
  .attr("y2", 537)
  .attr("stroke", "#ccc")
  .attr("stroke-width", 0.8);

legend.append("rect")
  .attr("x", 219)
  .attr("y", 537)
  .attr("width", 47)
  .attr("height", 11)
  .attr("fill", "url(#noDataPattern)")
  .attr("stroke", "#bbb")
  .attr("stroke-width", 0.6);
legend.append("line").attr("x1", 242.5).attr("x2", 242.5).attr("y1", 534).attr("y2", 537).attr("stroke", "#ccc").attr("stroke-width", 0.8);
legend.append("text")
  .attr("x", 242.5)
  .attr("y", 530)
  .attr("text-anchor", "middle")
  .attr("fill", "#5b5b5b")
  .attr("font-size", 13)
  .text(noDataLabel);

// footer
var source = svg.append("text")
  .attr("x", 16)
  .attr("y", 581)
  .attr("fill", "#5b5b5b")
  .attr("font-size", 13);
source.append("tspan").attr("font-weight", 700).text("Data source:");
source.append("tspan").text(" United Nations Statistics Division and UN Women");

svg.append("text")
  .attr("x", 832)
  .attr("y", 581)
  .attr("text-anchor", "end")
  .attr("fill", "#5b5b5b")
  .attr("font-size", 13)
  .text("OurWorldinData.org/human-rights | CC BY");
</script>
</body>
</html>
